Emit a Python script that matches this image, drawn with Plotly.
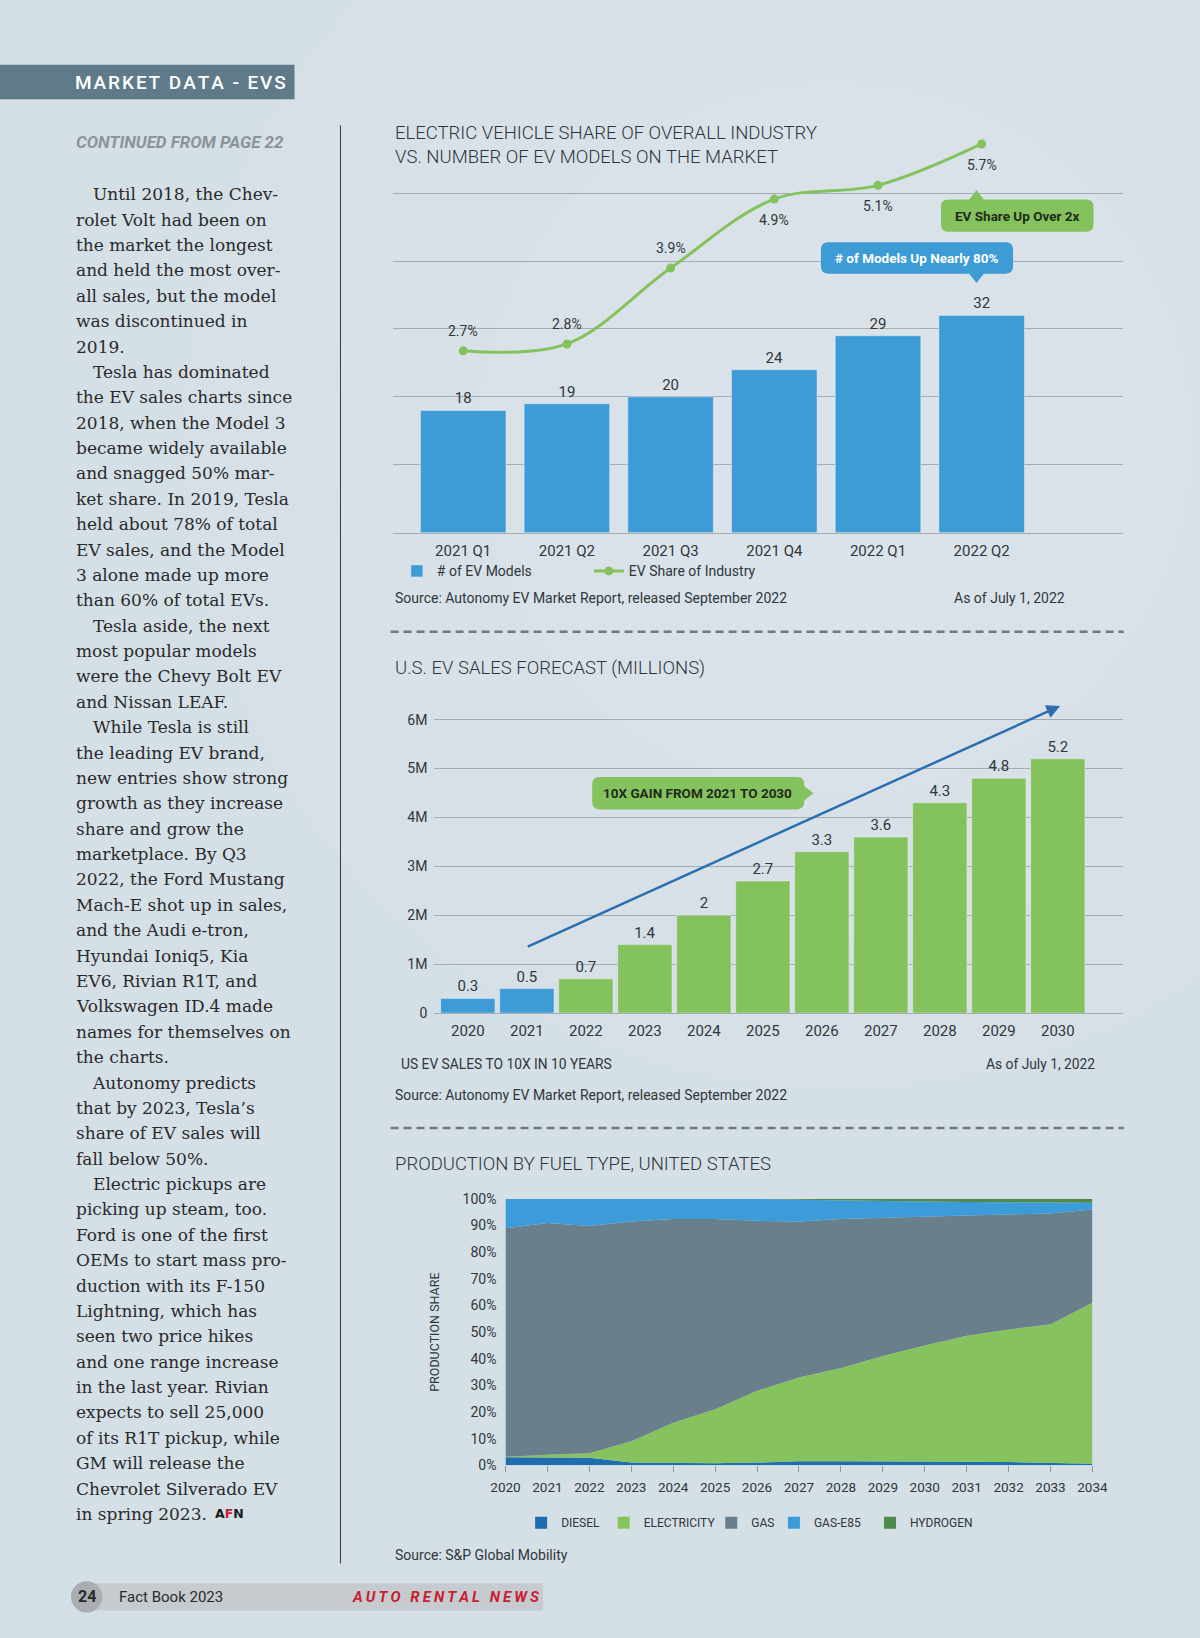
import plotly.graph_objects as go

W, H = 1200, 1638
F = 1200 / 1149  # measured (reduced-view) px -> page px


def X(v):
    return v * F / W


def Y(v):
    return 1 - v * F / H


COND = "Roboto, Open Sans, sans-serif"
SANS = "Roboto, Open Sans, Liberation Sans, sans-serif"
SERIF = "DejaVu Serif, Liberation Serif, serif"
TXT = "#30363a"
BLUE = "#3d9bd6"
GREEN = "#84c25d"
GRID = "#a3acb2"

# ---------------- data ----------------
quarters = ["2021 Q1", "2021 Q2", "2021 Q3", "2021 Q4", "2022 Q1", "2022 Q2"]
ev_models = [18, 19, 20, 24, 29, 32]
ev_share = [2.7, 2.8, 3.9, 4.9, 5.1, 5.7]
share_label_side = ["above", "above", "above", "below", "below", "below"]

sales_years = ["2020", "2021", "2022", "2023", "2024", "2025",
               "2026", "2027", "2028", "2029", "2030"]
sales_m = [0.3, 0.5, 0.7, 1.4, 2, 2.7, 3.3, 3.6, 4.3, 4.8, 5.2]
sales_kind = ["actual", "actual"] + ["forecast"] * 9
sales_tickvals = [0, 1, 2, 3, 4, 5, 6]
sales_ticktext = ["0", "1M", "2M", "3M", "4M", "5M", "6M"]

prod_years = list(range(2020, 2035))
diesel = [3.0, 3.0, 2.8, 1.0, 0.8, 0.8, 1.0, 1.5, 1.5, 1.5, 1.4, 1.3, 1.2, 1.0, 0.6]
electricity = [0.2, 1.0, 1.7, 8.0, 15.2, 20.2, 27.0, 31.5, 35.0, 39.5, 43.6, 47.3, 49.8, 52.0, 60.4]
gas = [85.8, 87.0, 85.3, 82.5, 76.5, 71.5, 63.8, 58.5, 56.0, 52.0, 48.3, 45.2, 43.2, 41.5, 35.0]
gas_e85 = [11.0, 9.0, 10.2, 8.5, 7.5, 7.5, 8.2, 8.2, 6.9, 6.2, 5.7, 5.1, 4.6, 4.2, 2.6]
hydrogen = [0, 0, 0, 0, 0, 0, 0, 0.3, 0.6, 0.8, 1.0, 1.1, 1.2, 1.3, 1.4]
fuel_names = ["DIESEL", "ELECTRICITY", "GAS", "GAS-E85", "HYDROGEN"]
fuel_colors = ["#1f6db0", "#86c35f", "#6a7f8c", "#3b9cd9", "#4d8a4b"]
fuel_series = [diesel, electricity, gas, gas_e85, hydrogen]
share_ticks = list(range(0, 101, 10))

body_lines = [
    "\u2003Until 2018, the Chev-", "rolet Volt had been on", "the market the longest",
    "and held the most over-", "all sales, but the model", "was discontinued in", "2019.",
    "\u2003Tesla has dominated", "the EV sales charts since", "2018, when the Model 3",
    "became widely available", "and snagged 50% mar-", "ket share. In 2019, Tesla",
    "held about 78% of total", "EV sales, and the Model", "3 alone made up more",
    "than 60% of total EVs.",
    "\u2003Tesla aside, the next", "most popular models", "were the Chevy Bolt EV",
    "and Nissan LEAF.",
    "\u2003While Tesla is still", "the leading EV brand,", "new entries show strong",
    "growth as they increase", "share and grow the", "marketplace. By Q3",
    "2022, the Ford Mustang", "Mach-E shot up in sales,", "and the Audi e-tron,",
    "Hyundai Ioniq5, Kia", "EV6, Rivian R1T, and", "Volkswagen ID.4 made",
    "names for themselves on", "the charts.",
    "\u2003Autonomy predicts", "that by 2023, Tesla\u2019s", "share of EV sales will",
    "fall below 50%.",
    "\u2003Electric pickups are", "picking up steam, too.", "Ford is one of the first",
    "OEMs to start mass pro-", "duction with its F-150", "Lightning, which has",
    "seen two price hikes", "and one range increase", "in the last year. Rivian",
    "expects to sell 25,000", "of its R1T pickup, while", "GM will release the",
    "Chevrolet Silverado EV", "in spring 2023.",
]

fig = go.Figure()

# ---------------- chart 1 ----------------
fig.add_trace(go.Bar(
    x=quarters, y=ev_models, name="# of EV Models", marker_color=BLUE, width=0.825,
    text=[str(v) for v in ev_models], textposition="outside", cliponaxis=False,
    textfont=dict(family=COND, size=15, color=TXT), xaxis="x", yaxis="y", legend="legend",
))
fig.add_trace(go.Scatter(
    x=quarters, y=ev_share, name="EV Share of Industry", mode="lines+markers",
    line=dict(color=GREEN, width=3, shape="spline", smoothing=1.0),
    marker=dict(size=9, color=GREEN), cliponaxis=False, xaxis="x", yaxis="y2", legend="legend",
))

# ---------------- chart 2 ----------------
fig.add_trace(go.Bar(
    x=sales_years, y=sales_m, width=0.92, showlegend=False,
    marker_color=[BLUE if k == "actual" else GREEN for k in sales_kind],
    text=[f"{v:g}" for v in sales_m], textposition="outside", cliponaxis=False,
    textfont=dict(family=COND, size=15, color=TXT), xaxis="x2", yaxis="y3",
))

# ---------------- chart 3 ----------------
for name, col, ser in zip(fuel_names, fuel_colors, fuel_series):
    fig.add_trace(go.Scatter(
        x=prod_years, y=ser, stackgroup="fuel", mode="lines", line=dict(width=0, color=col),
        fillcolor=col, name=name, showlegend=False, xaxis="x3", yaxis="y4",
    ))
for i, (name, col) in enumerate(zip(fuel_names, fuel_colors)):
    fig.add_trace(go.Scatter(
        x=[None], y=[None], mode="markers", name=name,
        marker=dict(symbol="square", size=12, color=col),
        xaxis="x3", yaxis="y4", legend=f"legend{i + 2}",
    ))

# ---------------- decorations ----------------
shapes = []
annotations = []

# soft light glow in the paper texture
for r, op in ((620, 0.05), (480, 0.05), (340, 0.05), (200, 0.05)):
    shapes.append(dict(type="circle", xref="paper", yref="paper", layer="below",
                       x0=X(800 - r), x1=X(800 + r), y0=Y(420 + r), y1=Y(420 - r),
                       fillcolor="white", opacity=op, line=dict(width=0)))


def pt(x, y):
    return f"{X(x):.5f},{Y(y):.5f}"


def bubble(x0, y0, x1, y1, color, ptr=None, r=7, w=7):
    d = [f"M{pt(x0 + r, y0)}"]
    if ptr and ptr[0] == "up":
        d += [f"L{pt(ptr[1] - w, y0)}", f"L{pt(ptr[1], ptr[2])}", f"L{pt(ptr[1] + w, y0)}"]
    d += [f"L{pt(x1 - r, y0)}", f"Q{pt(x1, y0)} {pt(x1, y0 + r)}"]
    if ptr and ptr[0] == "right":
        d += [f"L{pt(x1, ptr[2] - w)}", f"L{pt(ptr[1], ptr[2])}", f"L{pt(x1, ptr[2] + w)}"]
    d += [f"L{pt(x1, y1 - r)}", f"Q{pt(x1, y1)} {pt(x1 - r, y1)}"]
    if ptr and ptr[0] == "down":
        d += [f"L{pt(ptr[1] + w, y1)}", f"L{pt(ptr[1], ptr[2])}", f"L{pt(ptr[1] - w, y1)}"]
    d += [f"L{pt(x0 + r, y1)}", f"Q{pt(x0, y1)} {pt(x0, y1 - r)}",
          f"L{pt(x0, y0 + r)}", f"Q{pt(x0, y0)} {pt(x0 + r, y0)}", "Z"]
    shapes.append(dict(type="path", xref="paper", yref="paper", path=" ".join(d),
                       fillcolor=color, line=dict(width=0), layer="above"))


def text(x, y, s, family=SANS, size=14, color=TXT, xanchor="left", weight=None, **kw):
    font = dict(family=family, size=size, color=color)
    if weight:
        font["weight"] = weight
    annotations.append(dict(x=X(x), y=Y(y), xref="paper", yref="paper", text=s,
                            showarrow=False, xanchor=xanchor, yanchor="middle",
                            font=font, **kw))


# value labels of the EV-share line (anchored to the data points)
for q, v, side in zip(quarters, ev_share, share_label_side):
    annotations.append(dict(x=q, y=v, xref="x", yref="y2", text=f"{v:.1f}%", showarrow=False,
                            xanchor="center", yanchor="middle",
                            yshift=20 if side == "above" else -21,
                            font=dict(family=SANS, size=14, color=TXT)))

# header bar
shapes.append(dict(type="rect", xref="paper", yref="paper", x0=0, x1=X(282), y0=Y(95), y1=Y(62),
                   fillcolor="#5f7b89", line=dict(width=0), layer="below"))
text(276, 79, "\u200a".join("MARKET DATA - EVS"), family=SANS, size=19, color="white",
     xanchor="right", weight=500)
text(71, 136, "<b><i>CONTINUED FROM PAGE 22</i></b>", family=COND, size=16.9, color="#8b939a")

# body text
for i, line in enumerate(body_lines):
    text(71, 186 + i * 24.3, line, family=SERIF, size=17, color="#2a2a2a")
text(204, 1449, "<b>A<span style='color:#c8202f'>F</span>N</b>", family="DejaVu Sans",
     size=12.5, color="#1b1b1b")

# divider
shapes.append(dict(type="line", xref="paper", yref="paper", x0=X(326), x1=X(326),
                   y0=Y(120), y1=Y(1497), line=dict(color="#3a3a3a", width=1)))

# chart titles
TITLE_C = "#2f3439"
text(376, 127, "ELECTRIC VEHICLE SHARE OF OVERALL INDUSTRY", family=COND, size=18.5,
     color=TITLE_C, weight=300)
text(376, 150, "VS. NUMBER OF EV MODELS ON THE MARKET", family=COND, size=18.5,
     color=TITLE_C, weight=300)
text(376, 640, "U.S. EV SALES FORECAST (MILLIONS)", family=COND, size=18.5, color=TITLE_C,
     weight=300)
text(376, 1115, "PRODUCTION BY FUEL TYPE, UNITED STATES", family=COND, size=18.5,
     color=TITLE_C, weight=300)

# callouts chart 1
bubble(901, 191, 1047, 222, GREEN, ("up", 935, 182))
text(974, 206.5, "<b>EV Share Up Over 2x</b>", family=COND, size=13.5, color="#1f2a1c",
     xanchor="center")
bubble(786, 232, 970, 262, BLUE, ("down", 935, 271))
text(878, 247, "<b># of Models Up Nearly 80%</b>", family=COND, size=13.5, color="white",
     xanchor="center")

# sources chart 1
text(376, 573, "Source: Autonomy EV Market Report, released September 2022", family=SANS, size=14)
text(1022, 573, "As of July 1, 2022", family=SANS, size=14, xanchor="right")

# dashed separators
for yy in (605, 1080):
    shapes.append(dict(type="line", xref="paper", yref="paper", x0=X(374), x1=X(1076),
                       y0=Y(yy), y1=Y(yy), line=dict(color="#6f797f", width=2.5, dash="8px,5px")))

# chart 2 callout + arrow
bubble(567, 744, 770, 775, GREEN, ("right", 779, 759.5))
text(668, 759.5, "<b>10X GAIN FROM 2021 TO 2030</b>", family=COND, size=13.5, color="#1f2a1c",
     xanchor="center")
annotations.append(dict(x=10.04, y=6.28, ax=0.99, ay=1.345, xref="x2", yref="y3",
                        axref="x2", ayref="y3", text="", showarrow=True, arrowhead=2,
                        arrowsize=1.1, arrowwidth=2.5, arrowcolor="#2b6fb0", standoff=0))
text(382, 1019, "US EV SALES TO 10X IN 10 YEARS", family=COND, size=13.8)
text(1050, 1019, "As of July 1, 2022", family=COND, size=13.8, xanchor="right")
text(376, 1048, "Source: Autonomy EV Market Report, released September 2022", family=SANS, size=14)

# chart 3 source
text(376, 1489, "Source: S&P Global Mobility", family=SANS, size=14)

# footer
shapes.append(dict(type="rect", xref="paper", yref="paper", x0=X(80), x1=X(520),
                   y0=Y(1542), y1=Y(1516), fillcolor="#c6cbcf", line=dict(width=0), layer="below"))
shapes.append(dict(type="circle", xref="paper", yref="paper", x0=X(68), x1=X(98),
                   y0=Y(1544), y1=Y(1514), fillcolor="#a8aeb2", line=dict(width=0), layer="below"))
text(83, 1529, "<b>24</b>", family=SANS, size=16, color="#2a2a2a", xanchor="center")
text(112, 1529, "Fact Book 2023", family=COND, size=15, color="#2a2a2a")
text(335, 1529, "<b><i>" + "\u2009".join("AUTO RENTAL NEWS") + "</i></b>", family=SANS,
     size=15, color="#c8202f")

axis_font = dict(family=COND, size=15, color=TXT)
legend_common = dict(orientation="h", yanchor="middle", xanchor="left",
                     bgcolor="rgba(0,0,0,0)", traceorder="normal")
fuel_legend_pos = [521, 600, 703, 763, 855]  # symbol centres (layout, reduced-view px)
extra_legends = {
    f"legend{i + 2}": dict(legend_common, x=X(c - 22), y=Y(1458),
                           font=dict(family=COND, size=12, color=TXT))
    for i, c in enumerate(fuel_legend_pos)
}

fig.update_layout(
    width=W, height=H, autosize=False,
    margin=dict(l=0, r=0, t=0, b=0, pad=0, autoexpand=False),
    paper_bgcolor="#d5dfe6", plot_bgcolor="rgba(0,0,0,0)",
    barmode="overlay", showlegend=True,
    xaxis=dict(domain=[X(376), X(1075)], anchor="y", type="category", range=[-0.68, 6.36],
               showgrid=False, zeroline=False, showline=True, linecolor=GRID, linewidth=1,
               tickfont=axis_font, ticklabelstandoff=4, fixedrange=True, automargin=False),
    yaxis=dict(domain=[Y(510), Y(120)], anchor="x", range=[0, 60], tickvals=[10, 20, 30, 40, 50],
               showticklabels=False, gridcolor=GRID, gridwidth=1, zeroline=False,
               fixedrange=True, automargin=False),
    yaxis2=dict(overlaying="y", range=[0.064, 5.97], visible=False, fixedrange=True,
                automargin=False),
    xaxis2=dict(domain=[X(416), X(1075)], anchor="y3", type="category", range=[-0.566, 11.1],
                showgrid=False, zeroline=False, showline=True, linecolor=GRID, linewidth=1,
                tickfont=axis_font, ticklabelstandoff=4, fixedrange=True, automargin=False),
    yaxis3=dict(domain=[Y(970), Y(675)], anchor="x2", range=[0, 6.3], tickvals=sales_tickvals,
                ticktext=sales_ticktext, gridcolor=GRID, gridwidth=1, zeroline=False,
                tickfont=dict(family=COND, size=14, color=TXT), ticklabelstandoff=6,
                fixedrange=True, automargin=False),
    xaxis3=dict(domain=[X(484), X(1046)], anchor="y4", range=[2020, 2034], tickvals=prod_years,
                ticks="outside", ticklen=6, tickcolor="#8c959b", showgrid=False, zeroline=False,
                tickfont=dict(family=COND, size=13.5, color=TXT), ticklabelstandoff=4,
                fixedrange=True, automargin=False),
    yaxis4=dict(domain=[Y(1403), Y(1148)], anchor="x3", range=[0, 100],
                tickvals=share_ticks, ticktext=[f"{v}%" for v in share_ticks],
                showgrid=False, zeroline=False,
                tickfont=dict(family=COND, size=14, color=TXT), ticklabelstandoff=8,
                title=dict(text="PRODUCTION SHARE", font=dict(family=SANS, size=12.5, color=TXT),
                           standoff=20), fixedrange=True, automargin=False),
    legend=dict(legend_common, x=X(380), y=Y(547), entrywidth=147,
                font=dict(family=COND, size=14, color=TXT)),
    shapes=shapes, annotations=annotations,
    **extra_legends,
)

fig.write_html("out.html", config={"displayModeBar": False},
               post_script="document.body.style.margin='0px';")
